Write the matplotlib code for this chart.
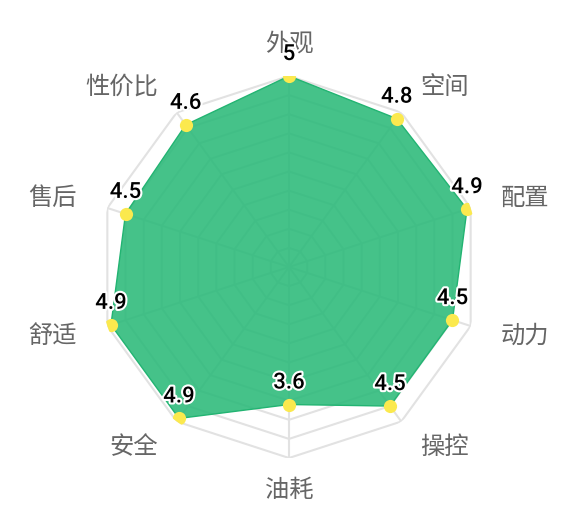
import numpy as np
import matplotlib
matplotlib.use('Agg')
import matplotlib.pyplot as plt
import matplotlib.patheffects as pe

# Dados do radar
categorias = ['外观', '空间', '配置', '动力', '操控', '油耗', '安全', '舒适', '售后', '性价比']
notas = [5, 4.8, 4.9, 4.5, 4.5, 3.6, 4.9, 4.9, 4.5, 4.6]
nota_max = 5
niveis = [0.5, 1, 1.5, 2, 2.5, 3, 3.5, 4, 4.5, 5]

W, H = 587, 526
cx, cy, R = 289, 267, 191

fig = plt.figure(figsize=(W / 100, H / 100), dpi=100)
ax = fig.add_axes([(cx - R) / W, (H - cy - R) / H, 2 * R / W, 2 * R / H], projection='polar')
ax.set_theta_offset(np.pi / 2)
ax.set_theta_direction(-1)
ax.set_ylim(0, nota_max)
ax.set_axis_off()

n = len(categorias)
angulos = np.arange(n) * 2 * np.pi / n
ang_fechado = np.append(angulos, angulos[0])

# Grade poligonal
for nv in niveis:
    ax.plot(ang_fechado, [nv] * (n + 1), color='#e2e2e2', lw=1.5, zorder=1)
for a in angulos:
    ax.plot([a, a], [0, nota_max], color='#e2e2e2', lw=1.5, zorder=1)

# Area preenchida
vals = np.append(notas, notas[0])
ax.fill(ang_fechado, vals, color='#2bba79', alpha=0.88, zorder=2, lw=0)
ax.plot(ang_fechado, vals, color='#22b472', lw=1, zorder=3)
ax.plot(angulos, notas, 'o', color='#fbe94e', ms=9.5, mec='none', zorder=4)

# Rotulos de valor
for a, v in zip(angulos, notas):
    ax.annotate(f'{v:g}', (a, v), xytext=(0, 11.5), textcoords='offset points',
                ha='center', va='baseline', fontsize=16, fontweight='medium', color='black',
                family=['Roboto', 'DejaVu Sans'], zorder=5,
                path_effects=[pe.withStroke(linewidth=3, foreground='white')])

# Nomes dos eixos
r_nome = 223 / R * nota_max
for a, nome in zip(angulos, categorias):
    s = np.sin(a)
    if abs(s) < 1e-6:
        ha = 'center'
    elif s > 0:
        ha = 'left'
    else:
        ha = 'right'
    ax.text(a, r_nome, nome, ha=ha, va='center', fontsize=17.5, color='#666666',
            family=['Noto Sans CJK SC', 'DejaVu Sans'], zorder=0)

plt.savefig('out.png', dpi=100)
